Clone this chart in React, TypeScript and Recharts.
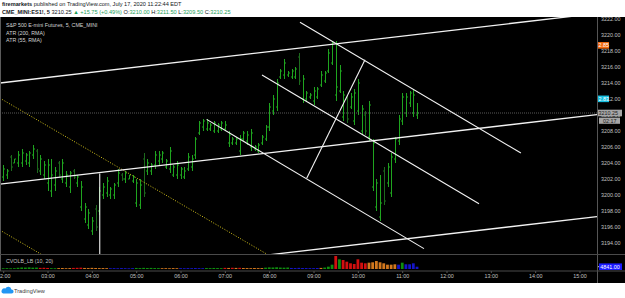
import React from 'react';
import { ComposedChart, Bar, XAxis, YAxis, ReferenceLine } from 'recharts';

// CME_MINI:ES1!, 5-minute bars from 02:00 to 11:20
const FIRST_BAR = 120; // minutes after midnight
const BAR_STEP = 5;

const opens = [
  3202.25, 3202.5, 3204.75, 3204.0, 3204.0, 3204.0, 3204.25, 3204.0, 3205.0, 3205.5,
  3203.0, 3202.5, 3201.5, 3200.5, 3201.25, 3204.0, 3202.0, 3201.5, 3201.0, 3203.0,
  3201.5, 3198.5, 3197.0, 3196.25, 3195.5, 3198.25, 3198.0, 3200.0, 3200.25, 3200.0,
  3200.0, 3201.5, 3202.5, 3202.0, 3202.0, 3201.75, 3199.0, 3198.75, 3204.5, 3203.0,
  3203.0, 3203.75, 3204.25, 3204.5, 3203.5, 3203.25, 3202.5, 3202.5, 3202.5, 3202.25,
  3203.25, 3203.5, 3205.0, 3207.75, 3208.5, 3208.25, 3208.25, 3208.0, 3208.0, 3208.25,
  3208.25, 3206.5, 3206.5, 3206.5, 3205.5, 3207.0, 3206.75, 3206.0, 3205.75, 3205.5,
  3206.5, 3207.0, 3208.5, 3210.5, 3211.0, 3214.75, 3215.0, 3215.0, 3214.75, 3214.75,
  3217.25, 3212.0, 3212.0, 3212.25, 3211.75, 3212.25, 3213.75, 3214.25, 3215.5, 3216.5,
  3212.5, 3213.0, 3209.75, 3212.0, 3211.0, 3209.25, 3210.5, 3208.0, 3210.0, 3207.25,
  3201.0, 3198.5, 3197.25, 3203.0, 3201.5, 3200.25, 3204.5, 3206.75, 3209.25, 3210.25,
  3211.5, 3210.25, 3210.0,
];
const highs = [
  3203.75, 3203.25, 3205.0, 3204.5, 3205.5, 3205.75, 3205.25, 3205.5, 3206.25, 3205.75,
  3205.0, 3204.25, 3204.5, 3204.5, 3203.5, 3204.25, 3204.5, 3203.0, 3203.0, 3203.25,
  3202.5, 3201.75, 3199.0, 3198.25, 3197.25, 3198.75, 3201.0, 3201.5, 3202.25, 3201.0,
  3201.5, 3203.25, 3202.75, 3203.0, 3202.5, 3202.5, 3202.0, 3202.0, 3205.25, 3204.5,
  3204.0, 3205.5, 3205.5, 3205.5, 3204.5, 3206.0, 3203.75, 3204.25, 3203.5, 3203.5,
  3205.25, 3205.0, 3207.25, 3209.25, 3209.5, 3209.5, 3209.0, 3209.25, 3209.0, 3209.25,
  3209.25, 3208.0, 3207.25, 3207.25, 3207.5, 3208.0, 3208.0, 3208.25, 3206.25, 3206.5,
  3207.5, 3208.75, 3211.5, 3212.5, 3214.5, 3215.75, 3217.0, 3215.5, 3215.75, 3216.0,
  3217.75, 3215.0, 3213.0, 3212.75, 3213.5, 3213.5, 3215.5, 3215.5, 3218.25, 3219.25,
  3219.25, 3216.25, 3213.0, 3212.5, 3212.75, 3213.25, 3214.5, 3211.25, 3210.5, 3211.75,
  3207.0, 3202.0, 3202.5, 3203.5, 3204.0, 3205.25, 3207.25, 3210.0, 3212.75, 3212.75,
  3213.0, 3213.25, 3211.5,
];
const lows = [
  3201.75, 3202.0, 3203.0, 3204.0, 3203.5, 3203.5, 3203.75, 3203.5, 3204.5, 3202.75,
  3202.5, 3202.0, 3200.5, 3199.75, 3200.5, 3202.25, 3201.5, 3201.0, 3200.25, 3202.0,
  3201.0, 3198.0, 3196.5, 3195.75, 3195.0, 3195.5, 3197.5, 3199.5, 3199.75, 3199.5,
  3199.5, 3201.0, 3201.75, 3201.5, 3202.0, 3201.5, 3198.5, 3198.25, 3199.75, 3202.5,
  3202.5, 3203.25, 3203.75, 3204.0, 3203.25, 3202.75, 3202.25, 3202.0, 3202.0, 3202.0,
  3203.0, 3203.0, 3204.5, 3207.5, 3208.0, 3208.0, 3208.0, 3207.75, 3207.75, 3208.0,
  3208.0, 3206.0, 3206.25, 3206.25, 3205.0, 3206.75, 3206.25, 3205.5, 3205.5, 3205.25,
  3206.25, 3206.75, 3208.0, 3210.0, 3210.5, 3214.5, 3214.5, 3214.75, 3214.5, 3214.5,
  3213.75, 3211.5, 3211.75, 3212.0, 3211.25, 3212.0, 3213.5, 3214.0, 3215.25, 3216.25,
  3211.75, 3212.75, 3209.25, 3209.0, 3210.75, 3208.75, 3210.0, 3207.5, 3207.5, 3206.75,
  3200.5, 3198.0, 3196.75, 3198.75, 3201.0, 3199.75, 3204.0, 3206.25, 3208.75, 3209.75,
  3211.0, 3209.75, 3209.5,
];
const closes = [
  3203.25, 3203.0, 3203.5, 3204.5, 3205.0, 3205.25, 3205.0, 3205.25, 3205.75, 3203.25,
  3204.5, 3203.75, 3203.75, 3202.5, 3203.0, 3202.5, 3204.0, 3202.5, 3202.75, 3202.25,
  3202.25, 3201.0, 3198.5, 3197.75, 3196.75, 3196.0, 3200.5, 3201.0, 3201.75, 3200.75,
  3201.25, 3202.75, 3202.0, 3202.75, 3202.5, 3202.25, 3201.5, 3201.25, 3200.25, 3204.0,
  3203.75, 3205.0, 3205.0, 3205.25, 3204.25, 3205.5, 3203.5, 3203.75, 3203.25, 3203.0,
  3204.75, 3204.5, 3207.0, 3209.0, 3209.25, 3209.0, 3208.75, 3209.0, 3208.75, 3209.0,
  3208.75, 3207.5, 3207.0, 3207.0, 3207.0, 3207.75, 3207.5, 3207.75, 3206.0, 3206.25,
  3207.25, 3208.5, 3211.0, 3212.0, 3214.0, 3215.5, 3216.5, 3215.25, 3215.5, 3215.75,
  3214.25, 3214.5, 3212.75, 3212.5, 3213.0, 3213.25, 3215.0, 3215.25, 3217.75, 3219.0,
  3213.5, 3215.5, 3212.5, 3209.5, 3212.25, 3212.75, 3214.0, 3210.75, 3208.0, 3211.25,
  3206.5, 3201.5, 3199.0, 3199.25, 3203.5, 3204.75, 3207.0, 3209.5, 3212.25, 3212.25,
  3212.75, 3212.5, 3210.25,
];

// CVOLB_LB (10, 20)
const volumes = [
  1600, 1800, 1500, 1700, 2600, 3200, 3000, 3400, 2800, 3000,
  2400, 2600, 2200, 1800, 1600, 1900, 2100, 1700, 2000, 2300,
  2500, 2800, 2200, 2000, 2400, 2100, 1900, 2000, 1800, 1700,
  1800, 1600, 1900, 1700, 1500, 1800, 2200, 2000, 2400, 2100,
  2300, 2000, 1900, 1700, 1800, 1600, 1900, 1700, 1800, 1600,
  1900, 1700, 2000, 1800, 1700, 2000, 1900, 2200, 2000, 1800,
  2400, 2200, 2600, 2300, 2500, 2100, 2000, 1800, 2100, 1900,
  2000, 2800, 3400, 3200, 3600, 3000, 2800, 3100, 2200, 2000,
  2400, 2100, 2000, 1900, 1800, 2100, 2300, 3000, 4900, 9100,
  27400, 20400, 18900, 15400, 12000, 10500, 20400, 13300, 12000, 13300,
  14100, 16800, 14100, 12000, 9100, 9100, 9900, 9100, 13300, 9900,
  9900, 12000, 4841,
];
const volumeKinds = (
  'g g g g g g g g g g r r r g g o o o o r r r o o o o o o o b b b b b b b ' +
  'g g g g g g g o o o o o b b b b b b b g g g g g r o r o r o o o o o o ' +
  'g g g g g g g b b b b b b b b o g g g r g r r r r r r r o o o o o o o o b g b b b b'
).trim().split(/\s+/);

const hourTicks = [120, 180, 240, 300, 360, 420, 480, 540, 600, 660, 720, 780, 840, 900];
const priceTicks = [3194, 3196, 3198, 3200, 3202, 3204, 3206, 3208, 3210, 3212, 3214, 3216, 3218, 3220, 3222];

// drawings, [minute1, price1, minute2, price2]
const channelLines = [
  [115, 3214.0, 923, 3222.7],
  [115, 3201.35, 923, 3210.05],
  [115, 3188.6, 923, 3197.3],
];
const forkLines = [
  [521, 3221.6, 820, 3205.25],
  [469.6, 3215.0, 763.3, 3198.9],
  [394.7, 3209.45, 688.8, 3193.3],
  [530.1, 3202.1, 609, 3216.9],
];
const verticalLine = [250, 3202.7, 250, 3185];
const dottedLines = [
  [115, 3212.1, 923, 3168.5],
  [115, 3195.6, 923, 3152.0],
];

const lastPrice = 3210.25;
const barCountdown = '02:17';
const atrLast = [2.85, 2.83];
const lastVolume = 4841;

const TIME_DOMAIN = [115, 923];
const PRICE_DOMAIN = [3192.625, 3222.25];
const ATR_DOMAIN = [2.772, 2.8606];
const VOL_DOMAIN = [-4210, 31575];

const FONT = '"Liberation Sans", Arial, sans-serif';
const UP = '#1fa51f';
const DOWN = '#1d6a1d';
const AXIS_TEXT = '#c2c2c2';
const VOL_COLORS: Record<string, string> = {
  g: '#0f8f0f',
  r: '#d20f0f',
  o: '#d2781e',
  b: '#1515c8',
};

const bars = opens.map((o, i) => ({
  t: FIRST_BAR + i * BAR_STEP,
  range: [lows[i], highs[i]],
  open: o,
  high: highs[i],
  low: lows[i],
  close: closes[i],
  vol: volumes[i],
  volColor: VOL_COLORS[volumeKinds[i]],
}));

const fmtHour = (m: number) => `${String(Math.floor(m / 60)).padStart(2, '0')}:00`;

const OhlcShape = (props: any) => {
  const { x, y, width, height, payload } = props;
  if (!payload || !isFinite(y) || !isFinite(height)) return null;
  const { open, high, low, close } = payload;
  const span = high - low || 1;
  const cx = Math.round(x + width / 2) + 0.5;
  const yo = y + ((high - open) / span) * height;
  const yc = y + ((high - close) / span) * height;
  const color = close < open ? DOWN : UP;
  return (
    <g stroke={color} strokeWidth={1}>
      <line x1={cx} x2={cx} y1={y} y2={y + height} />
      <line x1={cx - 1.5} x2={cx} y1={yo} y2={yo} />
      <line x1={cx} x2={cx + 1.5} y1={yc} y2={yc} />
    </g>
  );
};

const VolShape = (props: any) => {
  const { x, y, width, height, payload } = props;
  if (!payload || !isFinite(y)) return null;
  return <rect x={x} y={y} width={width} height={Math.max(0.8, height)} fill={payload.volColor} />;
};

const AxisTag = (props: any) => {
  const { viewBox, text, bg, fg, w, dash, sub } = props;
  if (!viewBox) return null;
  const x0 = viewBox.x + viewBox.width;
  const cy = viewBox.y;
  return (
    <g>
      {dash && <line x1={x0} x2={x0 + 2} y1={cy} y2={cy} stroke="#fff" strokeWidth={0.8} />}
      <rect x={x0 + (dash ? 2 : 0)} y={cy - 3.3} width={w} height={6.6} fill={bg} />
      <text x={x0 + (dash ? 3.2 : 1.4)} y={cy + 2} fontSize={5.4} fill={fg} fontFamily={FONT}>
        {text}
      </text>
      {sub && (
        <g>
          <rect x={x0 + 2} y={cy + 4.6} width={21} height={6.2} fill="#a6a6a6" />
          <text x={x0 + 6} y={cy + 9.6} fontSize={5.4} fill="#1a1a1a" fontFamily={FONT}>
            {sub}
          </text>
        </g>
      )}
    </g>
  );
};

const seg = (s: number[]) => [
  { x: s[0], y: s[1] },
  { x: s[2], y: s[3] },
];

export default function App() {
  return (
    <div
      style={{
        position: 'fixed',
        left: 0,
        top: 0,
        width: 625,
        height: 298,
        background: '#fff',
        overflow: 'hidden',
        fontFamily: FONT,
      }}
    >
      <div style={{ position: 'absolute', left: 0, top: 17, width: 625, height: 266, background: '#000' }} />

      {/* price pane */}
      <div style={{ position: 'absolute', left: 0, top: 17 }}>
        <ComposedChart width={625} height={237} data={bars} margin={{ top: 0, right: 0, bottom: 0, left: 0 }}>
          <XAxis dataKey="t" type="number" domain={TIME_DOMAIN} allowDataOverflow hide />
          <YAxis
            orientation="right"
            width={28}
            domain={PRICE_DOMAIN}
            allowDataOverflow
            ticks={priceTicks}
            interval={0}
            tickFormatter={(v: number) => v.toFixed(2)}
            tick={{ fontSize: 5.4, fill: AXIS_TEXT, fontFamily: FONT }}
            axisLine={false}
            tickLine={false}
            tickSize={2}
            tickMargin={2}
          />

          {dottedLines.map((s, i) => (
            <ReferenceLine
              key={`dot-${i}`}
              segment={seg(s)}
              ifOverflow="hidden"
              stroke="#d6c41c"
              strokeWidth={1}
              strokeDasharray="1 1.6"
            />
          ))}

          <ReferenceLine y={lastPrice} stroke="#6e6e6e" strokeWidth={0.8} strokeDasharray="1 1" />

          <Bar dataKey="range" shape={<OhlcShape />} barSize={3} isAnimationActive={false} />

          {channelLines.map((s, i) => (
            <ReferenceLine key={`ch-${i}`} segment={seg(s)} ifOverflow="hidden" stroke="#f2f2f2" strokeWidth={1.3} />
          ))}
          {forkLines.map((s, i) => (
            <ReferenceLine key={`pf-${i}`} segment={seg(s)} ifOverflow="hidden" stroke="#f2f2f2" strokeWidth={1.1} />
          ))}
          <ReferenceLine segment={seg(verticalLine)} ifOverflow="hidden" stroke="#f2f2f2" strokeWidth={1.1} />
        </ComposedChart>
      </div>

      {/* last-value tags on the price scale, drawn above the tick labels */}
      <div style={{ position: 'absolute', left: 0, top: 17 }}>
        <ComposedChart width={625} height={237} data={bars} margin={{ top: 0, right: 28, bottom: 0, left: 0 }}>
          <XAxis dataKey="t" type="number" domain={TIME_DOMAIN} allowDataOverflow hide />
          <YAxis hide domain={PRICE_DOMAIN} allowDataOverflow />
          <YAxis yAxisId="atr" hide domain={ATR_DOMAIN} allowDataOverflow />
          <ReferenceLine
            yAxisId="atr"
            y={atrLast[0]}
            stroke="none"
            label={<AxisTag text={atrLast[0].toFixed(2)} bg="#f26b0f" fg="#fff" w={12} />}
          />
          <ReferenceLine
            yAxisId="atr"
            y={atrLast[1]}
            stroke="none"
            label={<AxisTag text={atrLast[1].toFixed(2)} bg="#17bfe0" fg="#fff" w={12} />}
          />
          <ReferenceLine
            y={lastPrice}
            stroke="none"
            label={<AxisTag text={lastPrice.toFixed(2)} bg="#a6a6a6" fg="#1a1a1a" w={25} sub={barCountdown} />}
          />
        </ComposedChart>
      </div>

      {/* CVOLB_LB pane + time scale */}
      <div style={{ position: 'absolute', left: 0, top: 254 }}>
        <ComposedChart width={625} height={29} data={bars} margin={{ top: 0, right: 28, bottom: 0, left: 0 }}>
          <XAxis
            dataKey="t"
            type="number"
            domain={TIME_DOMAIN}
            allowDataOverflow
            ticks={hourTicks}
            interval={0}
            tickFormatter={fmtHour}
            height={12}
            axisLine={false}
            tickLine={{ stroke: '#5a5a5a' }}
            tickSize={2}
            tickMargin={1}
            tick={{ fontSize: 5.4, fill: AXIS_TEXT, fontFamily: FONT }}
          />
          <YAxis hide domain={VOL_DOMAIN} allowDataOverflow />
          <Bar dataKey="vol" barSize={2.8} shape={<VolShape />} isAnimationActive={false} />
          <ReferenceLine
            y={lastVolume}
            stroke="none"
            label={<AxisTag text={lastVolume.toFixed(2)} bg="#1a1aff" fg="#fff" w={23} dash />}
          />
        </ComposedChart>
      </div>

      <svg
        width={625}
        height={298}
        style={{ position: 'absolute', left: 0, top: 0, pointerEvents: 'none' }}
        fontFamily={FONT}
      >
        <text x={2} y={6} fontSize={5.6} fill="#131722">
          <tspan fontWeight="bold">firemarkets</tspan>
          <tspan>{' published on TradingView.com, July 17, 2020 11:22:44 EDT'}</tspan>
        </text>
        <text x={2} y={13.8} fontSize={5.6} fill="#131722">
          <tspan fontWeight="bold">CME_MINI:ES1!, 5</tspan>
          <tspan>{' 3210.25 '}</tspan>
          <tspan fill="#1e9e5a">{'▲ +15.75 (+0.49%)'}</tspan>
          <tspan>{' O:'}</tspan>
          <tspan fill="#1e9e5a">3210.00</tspan>
          <tspan>{' H:'}</tspan>
          <tspan fill="#1e9e5a">3211.50</tspan>
          <tspan>{' L:'}</tspan>
          <tspan fill="#1e9e5a">3209.50</tspan>
          <tspan>{' C:'}</tspan>
          <tspan fill="#1e9e5a">3210.25</tspan>
        </text>

        <text x={6} y={27} fontSize={5.3} fill="#d4d4d4">S&amp;P 500 E-mini Futures, 5, CME_MINI</text>
        <text x={6} y={34.5} fontSize={5.3} fill="#d4d4d4">ATR (200, RMA)</text>
        <text x={6} y={41.5} fontSize={5.3} fill="#d4d4d4">ATR (55, RMA)</text>
        <text x={6} y={263} fontSize={5.3} fill="#c4c4c4">CVOLB_LB (10, 20)</text>

        <line x1={0.5} x2={0.5} y1={17} y2={271} stroke="#5a5a5a" strokeWidth={1} />
        <line x1={597.5} x2={597.5} y1={17} y2={283} stroke="#555" strokeWidth={1} />
        <line x1={0} x2={625} y1={254.5} y2={254.5} stroke="#4a4a4a" strokeWidth={1} />
        <line x1={0} x2={625} y1={271} y2={271} stroke="#4a4a4a" strokeWidth={1} />

        <path
          d="M3.2 293.6 H11.6 A2.1 2.1 0 0 0 11.4 289.4 A3.2 3.2 0 0 0 5.4 288.6 A2.5 2.5 0 0 0 3.2 293.6 Z"
          fill="#2196f3"
        />
        <text x={14} y={292.6} fontSize={5.6} fill="#3a3a3a">TradingView</text>
      </svg>
    </div>
  );
}
